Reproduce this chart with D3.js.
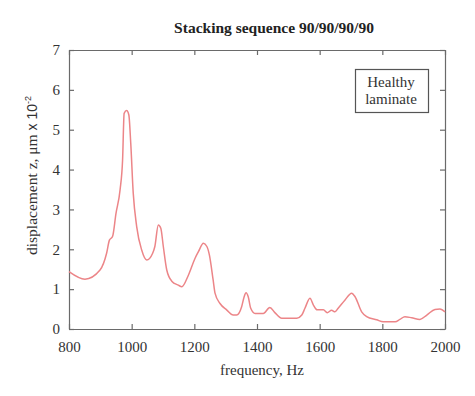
<!DOCTYPE html>
<html>
<head>
<meta charset="utf-8">
<script src="https://cdn.jsdelivr.net/npm/d3@7"></script>
<style>
  body { margin: 0; background: #fff; }
  svg { display: block; }
</style>
</head>
<body>
<script>
// frequency (Hz) and displacement (x10^-2 um)
var freq = [800, 851, 899, 920, 929, 939, 950, 963, 971, 976, 984, 991, 997, 1005, 1016, 1032, 1048, 1067, 1074, 1085, 1093, 1101, 1112, 1128, 1149, 1160, 1181, 1202, 1213, 1229, 1240, 1248, 1260, 1266, 1282, 1303, 1324, 1335, 1351, 1359, 1365, 1372, 1380, 1394, 1420, 1441, 1457, 1479, 1527, 1543, 1553, 1569, 1580, 1592, 1612, 1624, 1638, 1649, 1659, 1681, 1702, 1713, 1734, 1750, 1782, 1803, 1841, 1856, 1872, 1894, 1920, 1942, 1968, 1984, 2000];
var disp = [1.44, 1.25, 1.48, 1.9, 2.23, 2.32, 2.9, 3.49, 4.24, 5.41, 5.48, 5.37, 4.67, 3.41, 2.57, 1.98, 1.73, 1.9, 2.07, 2.61, 2.53, 2.07, 1.48, 1.2, 1.1, 1.06, 1.35, 1.77, 1.94, 2.15, 2.07, 1.86, 1.23, 0.9, 0.64, 0.48, 0.35, 0.35, 0.56, 0.81, 0.91, 0.81, 0.52, 0.39, 0.39, 0.54, 0.41, 0.27, 0.27, 0.35, 0.52, 0.77, 0.6, 0.48, 0.48, 0.41, 0.47, 0.43, 0.52, 0.73, 0.9, 0.81, 0.43, 0.31, 0.23, 0.18, 0.18, 0.24, 0.31, 0.28, 0.24, 0.35, 0.49, 0.5, 0.43];
var xTicks = [800, 1000, 1200, 1400, 1600, 1800, 2000];
var yTicks = [0, 1, 2, 3, 4, 5, 6, 7];

var W = 475, H = 396;
var margin = {left: 69, right: 30, top: 50, bottom: 67};
var serif = "'Liberation Serif', 'Times New Roman', serif";
var axisCol = "#6a6a6a";

var svg = d3.select("body").append("svg").attr("width", W).attr("height", H);

var x = d3.scaleLinear().domain([800, 2000]).range([margin.left, W - margin.right]);
var y = d3.scaleLinear().domain([0, 7]).range([H - margin.bottom, margin.top]);

function styleAxis(g, noText){
	g.select(".domain").attr("stroke", axisCol).attr("stroke-width", 1.2);
	g.selectAll(".tick line").attr("stroke", axisCol).attr("stroke-width", 1.2);
	g.selectAll(".tick text").attr("fill", "#333").style("font-family", serif).style("font-size", "15px");
	if(noText){ g.selectAll(".tick text").remove(); }
}

// bottom + top
svg.append("g").attr("transform", "translate(0," + y(0) + ")")
	.call(d3.axisBottom(x).tickValues(xTicks).tickFormat(d3.format("d")).tickSize(-5).tickPadding(12).tickSizeOuter(0))
	.call(function(g){ styleAxis(g); });
svg.append("g").attr("transform", "translate(0," + y(7) + ")")
	.call(d3.axisTop(x).tickValues(xTicks).tickSize(-5).tickSizeOuter(0))
	.call(function(g){ styleAxis(g, true); });
// left + right
svg.append("g").attr("transform", "translate(" + x(800) + ",0)")
	.call(d3.axisLeft(y).tickValues(yTicks).tickFormat(d3.format("d")).tickSize(-5).tickPadding(9).tickSizeOuter(0))
	.call(function(g){ styleAxis(g); });
svg.append("g").attr("transform", "translate(" + x(2000) + ",0)")
	.call(d3.axisRight(y).tickValues(yTicks).tickSize(-5).tickSizeOuter(0))
	.call(function(g){ styleAxis(g, true); });

// the curve
var line = d3.line()
	.x(function(d, i){ return x(freq[i]); })
	.y(function(d){ return y(d); })
	.curve(d3.curveMonotoneX);

svg.append("path")
	.datum(disp)
	.attr("d", line)
	.attr("fill", "none")
	.attr("stroke", "#ec8588")
	.attr("stroke-width", 1.5);

// title
svg.append("text")
	.attr("x", 274).attr("y", 33)
	.attr("text-anchor", "middle")
	.style("font-family", serif).style("font-size", "15.5px").style("font-weight", "bold")
	.attr("fill", "#222")
	.text("Stacking sequence 90/90/90/90");

// x label
svg.append("text")
	.attr("x", 262).attr("y", 375)
	.attr("text-anchor", "middle")
	.style("font-family", serif).style("font-size", "15px")
	.attr("fill", "#333")
	.text("frequency, Hz");

// y label
var yl = svg.append("text")
	.attr("transform", "translate(37,255) rotate(-90)")
	.attr("fill", "#333")
	.style("font-family", serif).style("font-size", "15.5px");
yl.append("tspan").text("displacement z, \u03bcm");
yl.append("tspan").style("font-family", "'Liberation Sans', Arial, sans-serif").style("font-size", "14px").text(" x 10");
yl.append("tspan").style("font-family", "'Liberation Sans', Arial, sans-serif").style("font-size", "9px").attr("dy", -6).text("-2");

// legend box
svg.append("rect")
	.attr("x", 355.5).attr("y", 69.5).attr("width", 73).attr("height", 43)
	.attr("fill", "#fff").attr("stroke", "#555").attr("stroke-width", 1.2);
svg.append("text")
	.attr("x", 391).attr("y", 87).attr("text-anchor", "middle")
	.style("font-family", serif).style("font-size", "15px").attr("fill", "#333")
	.text("Healthy");
svg.append("text")
	.attr("x", 391).attr("y", 104).attr("text-anchor", "middle")
	.style("font-family", serif).style("font-size", "15px").attr("fill", "#333")
	.text("laminate");
</script>
</body>
</html>
